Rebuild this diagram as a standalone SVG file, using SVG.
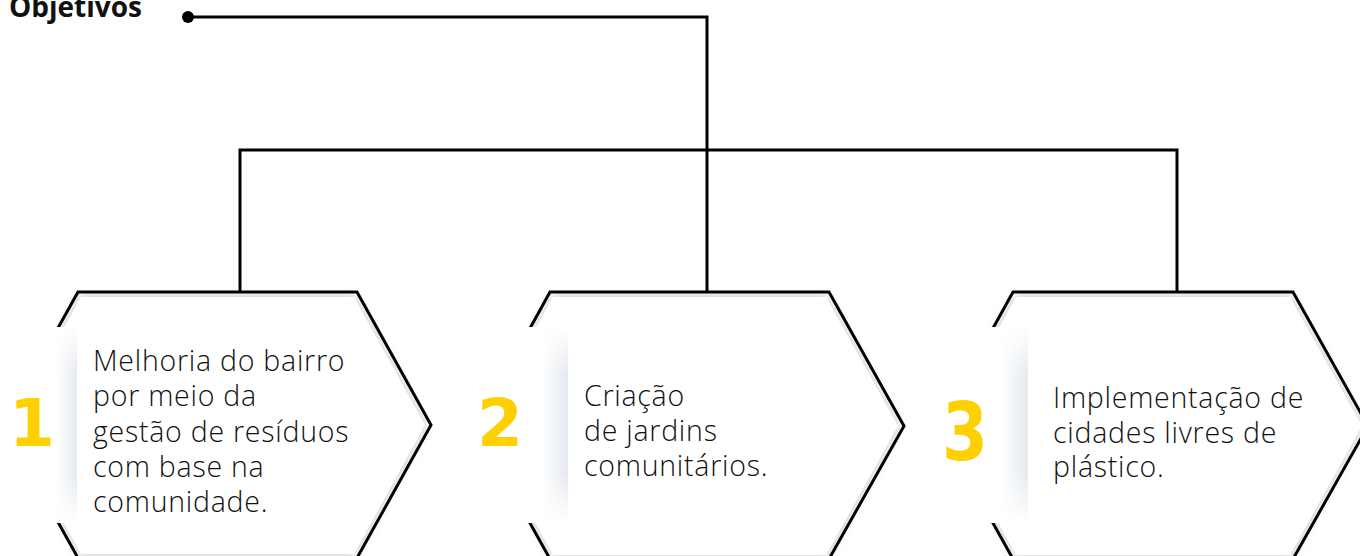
<svg xmlns="http://www.w3.org/2000/svg" width="1360" height="556" viewBox="0 0 1360 556">
<style>
.ln{fill:none;stroke:#000;stroke-width:3;stroke-linejoin:miter}
.hexs{fill:none;stroke:#000;stroke-width:3;stroke-linejoin:miter}
.hexf{fill:#fff;filter:url(#sh)}
.txt{font-family:"Open Sans","Liberation Sans",sans-serif;font-weight:300;font-size:28.5px;letter-spacing:0.75px;fill:#111}
.num{font-family:"DejaVu Sans",sans-serif;font-weight:bold;font-size:66px;fill:#FFD000;text-anchor:middle}
.title{font-family:"Open Sans","Liberation Sans",sans-serif;font-weight:bold;font-size:28px;fill:#111}
</style>
<defs>
<filter id="sh" x="-10%" y="-10%" width="120%" height="120%">
<feDropShadow dx="0" dy="0" stdDeviation="5" flood-color="#777" flood-opacity="0.5"/>
</filter>
<linearGradient id="pg" x1="0" y1="0" x2="1" y2="0">
<stop offset="0" stop-color="#fff"/>
<stop offset="0.75" stop-color="#fff"/>
<stop offset="1" stop-color="#e4e9ef"/>
</linearGradient>
<linearGradient id="vg" x1="0" y1="0" x2="0" y2="1">
<stop offset="0" stop-color="#fff" stop-opacity="1"/>
<stop offset="0.25" stop-color="#fff" stop-opacity="0"/>
<stop offset="0.75" stop-color="#fff" stop-opacity="0"/>
<stop offset="1" stop-color="#fff" stop-opacity="1"/>
</linearGradient>
</defs>
<rect width="1360" height="556" fill="#fff"/>
<g id="connectors">
<circle cx="188" cy="17" r="6" fill="#000"/>
<polyline class="ln" points="188,17 707,17 707,292"/>
<polyline class="ln" points="240,292 240,150 1177,150 1177,292"/>
</g>
<text class="title" x="9" y="17">Objetivos</text>
<g id="node1">
<polygon class="hexf" points="81,297 354,297 425,425 354,554 81,554 10,425"/>
<polygon class="hexs" points="78,292 357,292 431,425 357,558 78,558 4,425"/>
<rect x="-10" y="327" width="87" height="196" fill="url(#pg)"/>
<rect x="-10" y="327" width="87" height="196" fill="url(#vg)"/>
<text class="num" x="32" y="446">1</text>
<text class="txt" x="93"><tspan x="93" y="371">Melhoria do bairro</tspan><tspan x="93" y="406">por meio da</tspan><tspan x="93" y="441.5">gestão de resíduos</tspan><tspan x="93" y="477">com base na</tspan><tspan x="93" y="512">comunidade.</tspan></text>
</g>
<g id="node2">
<polygon class="hexf" points="553,297 826,297 898,426 826,555 553,555 482,426"/>
<polygon class="hexs" points="550,292 829,292 904,426 829,559 550,559 476,426"/>
<rect x="460" y="327" width="108" height="196" fill="url(#pg)"/>
<rect x="460" y="327" width="108" height="196" fill="url(#vg)"/>
<text class="num" x="500" y="446">2</text>
<text class="txt"><tspan x="584" y="406">Criação</tspan><tspan x="584" y="441">de jardins</tspan><tspan x="584" y="476">comunitários.</tspan></text>
</g>
<g id="node3">
<polygon class="hexf" points="1016,297 1290,297 1362,426 1290,555 1016,555 945,426"/>
<polygon class="hexs" points="1013,292 1293,292 1368,426 1293,559 1013,559 939,426"/>
<rect x="920" y="327" width="108" height="196" fill="url(#pg)"/>
<rect x="920" y="327" width="108" height="196" fill="url(#vg)"/>
<text class="num" transform="translate(965,460) scale(1,1.22)" x="0" y="0">3</text>
<text class="txt"><tspan x="1053" y="408">Implementação de</tspan><tspan x="1053" y="443">cidades livres de</tspan><tspan x="1053" y="477">plástico.</tspan></text>
</g>
</svg>
